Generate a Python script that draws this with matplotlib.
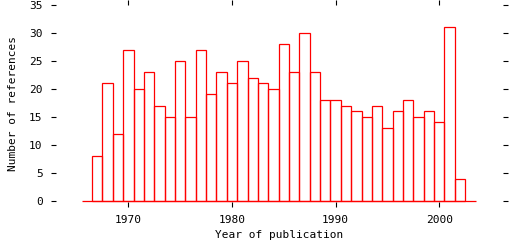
import matplotlib
matplotlib.use('Agg')
import matplotlib.pyplot as plt

plt.rcParams['font.family'] = 'DejaVu Sans Mono'

# references per year of publication
years = list(range(1967, 2003))
counts = [8, 21, 12, 27, 20, 23, 17, 15, 25, 15, 27, 19, 23, 21, 25, 22, 21, 20,
          28, 23, 30, 23, 18, 18, 17, 16, 15, 17, 13, 16, 18, 15, 16, 14, 31, 4]

xticks = [1970, 1980, 1990, 2000]
yticks = [0, 5, 10, 15, 20, 25, 30, 35]

fig = plt.figure(figsize=(5.12, 2.4), dpi=100)
ax = fig.add_axes([51 / 512, 33 / 240, 457 / 512, 207 / 240])

ax.bar(years, counts, width=1.0, facecolor='none', edgecolor='#ff0000', linewidth=0.9)
ax.hlines(0, years[0] - 1.5, years[-1] + 1.5, color='#ff0000', linewidth=0.9)

ax.set_xlim(1962.54, 2006.63)
ax.set_ylim(-1.07, 35.84)
ax.set_xticks(xticks)
ax.set_yticks(yticks)
for s in ax.spines.values():
    s.set_visible(False)
ax.tick_params(direction='in', length=3.6, width=0.8, color='black',
               top=True, right=True, labelsize=8)
ax.tick_params(axis='y', pad=6)
ax.tick_params(axis='x', pad=6)

ax.set_xlabel('Year of publication', fontsize=8, labelpad=3)
ax.set_ylabel('Number of references', fontsize=8, labelpad=8)

fig.savefig('out.png', dpi=100)
plt.close(fig)
